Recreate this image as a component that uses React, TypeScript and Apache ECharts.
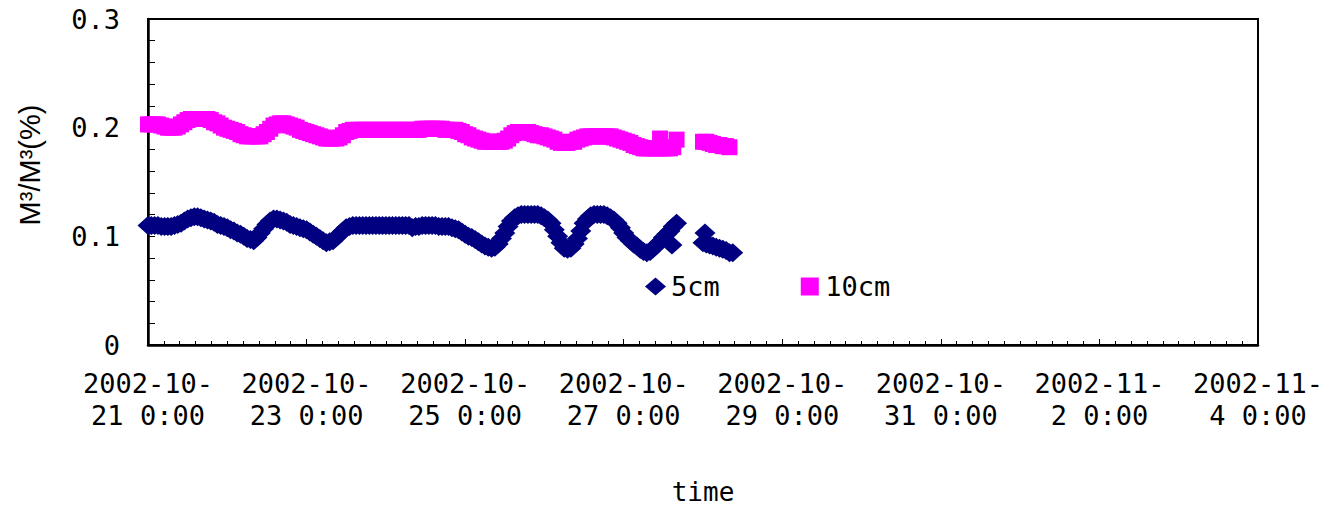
import React, { useEffect, useRef } from "react";
import * as echarts from "echarts";

// hourly readings from 2002-10-21 0:00 (null = no reading)
const STEP_HOURS = 1;
const values5cm: (number | null)[] = [
  0.110, 0.110, 0.110, 0.110, 0.109, 0.109, 0.109, 0.109, 0.110, 0.111,
  0.112, 0.114, 0.116, 0.117, 0.118, 0.118, 0.117, 0.116, 0.115, 0.114,
  0.113, 0.111, 0.110, 0.109, 0.108, 0.106, 0.105, 0.103, 0.102, 0.100,
  0.098, 0.097, 0.096, 0.099, 0.103, 0.107, 0.111, 0.114, 0.116, 0.116,
  0.115, 0.114, 0.113, 0.111, 0.110, 0.109, 0.108, 0.107, 0.106, 0.104,
  0.102, 0.100, 0.098, 0.096, 0.094, 0.095, 0.096, 0.099, 0.102, 0.105,
  0.108, 0.109, 0.110, 0.110, 0.110, 0.110, 0.110, 0.110, 0.110, 0.110,
  0.110, 0.110, 0.110, 0.110, 0.110, 0.110, 0.110, 0.110, 0.110, 0.110,
  0.108, 0.109, 0.109, 0.110, 0.110, 0.110, 0.110, 0.110, 0.109, 0.109,
  0.109, 0.109, 0.108, 0.107, 0.106, 0.104, 0.102, 0.100, 0.099, 0.097,
  0.095, 0.093, 0.091, 0.090, 0.089, 0.090, 0.093, 0.098, 0.103, 0.109,
  0.114, 0.117, 0.119, 0.120, 0.120, 0.120, 0.120, 0.120, 0.120, 0.119,
  0.117, 0.115, 0.112, 0.106, 0.100, 0.094, 0.089, 0.088, 0.089, 0.093,
  0.098, 0.105, 0.112, 0.116, 0.119, 0.120, 0.120, 0.120, 0.120, 0.119,
  0.117, 0.115, 0.112, 0.108, 0.103, 0.099, 0.096, 0.093, 0.091, 0.088,
  0.086, 0.085, 0.086, 0.089, 0.092, 0.095, 0.099, 0.102, 0.105, 0.109,
  0.112, null, null, null, null, null, null, null, 0.094, 0.093,
  0.092, 0.091, 0.090, 0.089, 0.088, 0.087, 0.085, 0.085, null, null,
];
const values10cm: (number | null)[] = [
  0.203, 0.203, 0.203, 0.203, 0.202, 0.201, 0.200, 0.200, 0.200, 0.201,
  0.203, 0.205, 0.207, 0.208, 0.208, 0.208, 0.208, 0.208, 0.208, 0.207,
  0.205, 0.204, 0.202, 0.200, 0.199, 0.198, 0.197, 0.196, 0.194, 0.193,
  0.192, 0.192, 0.192, 0.192, 0.192, 0.194, 0.196, 0.199, 0.202, 0.203,
  0.204, 0.204, 0.203, 0.202, 0.201, 0.200, 0.198, 0.197, 0.196, 0.195,
  0.194, 0.193, 0.192, 0.191, 0.190, 0.190, 0.190, 0.190, 0.191, 0.193,
  0.196, 0.197, 0.198, 0.198, 0.198, 0.198, 0.198, 0.198, 0.198, 0.198,
  0.198, 0.198, 0.198, 0.198, 0.198, 0.198, 0.198, 0.198, 0.198, 0.198,
  0.198, 0.198, 0.198, 0.199, 0.199, 0.199, 0.199, 0.199, 0.199, 0.199,
  0.198, 0.198, 0.198, 0.198, 0.197, 0.196, 0.194, 0.193, 0.191, 0.190,
  0.189, 0.188, 0.187, 0.187, 0.187, 0.187, 0.187, 0.187, 0.188, 0.190,
  0.193, 0.195, 0.196, 0.196, 0.196, 0.196, 0.195, 0.194, 0.193, 0.193,
  0.192, 0.191, 0.190, 0.189, 0.187, 0.186, 0.186, 0.186, 0.187, 0.187,
  0.189, 0.190, 0.191, 0.192, 0.192, 0.192, 0.192, 0.192, 0.192, 0.192,
  0.192, 0.191, 0.190, 0.189, 0.188, 0.187, 0.186, 0.184, 0.183, 0.182,
  0.181, 0.181, 0.181, 0.181, 0.181, 0.181, 0.181, 0.181, 0.181, 0.182,
  0.189, null, null, null, null, null, null, null, 0.187, 0.187,
  0.186, 0.185, 0.184, 0.184, 0.183, 0.183, 0.182, null, null, null,
];
// out-of-step readings: [hour, value]
const extra5cm: [number, number][] = [
  [158.6, 0.092],
  [168.6, 0.103],
];
const extra10cm: [number, number][] = [[155, 0.19]];

const xTickLabels = [
  "2002-10-\n21 0:00",
  "2002-10-\n23 0:00",
  "2002-10-\n25 0:00",
  "2002-10-\n27 0:00",
  "2002-10-\n29 0:00",
  "2002-10-\n31 0:00",
  "2002-11-\n2 0:00",
  "2002-11-\n4 0:00",
];

const FONT = "'DejaVu Sans Mono', monospace";

function toPairs(vals: (number | null)[], extra: [number, number][]) {
  const out: [number, number][] = [];
  vals.forEach((v, i) => {
    if (v !== null) out.push([i * STEP_HOURS, v]);
  });
  return out.concat(extra);
}

export default function App() {
  const ref = useRef<HTMLDivElement>(null);
  useEffect(() => {
    if (!ref.current) return;
    const chart = echarts.init(ref.current, null, { renderer: "svg" });
    chart.setOption({
      animation: false,
      backgroundColor: "#fff",
      grid: {
        left: 148,
        right: 75,
        top: 19,
        bottom: 162,
        outerBoundsMode: "none",
        containLabel: false,
        show: true,
        borderColor: "#000",
        borderWidth: 2,
        backgroundColor: "transparent",
      },
      legend: {
        left: 640,
        top: 268,
        itemWidth: 21,
        itemHeight: 18,
        itemGap: 81,
        symbolKeepAspect: true,
        textStyle: { fontFamily: FONT, fontSize: 27, color: "#000" },
        data: [
          { name: "5cm", icon: "diamond" },
          { name: "10cm", icon: "path://M0,0L1,0L1,1L0,1Z" },
        ],
      },
      xAxis: {
        type: "value",
        min: 0,
        max: 336,
        interval: 48,
        name: "time",
        nameLocation: "middle",
        nameGap: 134,
        nameTextStyle: { fontFamily: FONT, fontSize: 26, color: "#000" },
        axisLine: { lineStyle: { color: "#000", width: 2.5 } },
        axisTick: { inside: true, length: 6, lineStyle: { color: "#000" } },
        minorTick: { show: true, splitNumber: 10, length: 4, lineStyle: { color: "#000" } },
        splitLine: { show: false },
        axisLabel: {
          fontFamily: FONT,
          fontSize: 27,
          color: "#000",
          margin: 22,
          lineHeight: 32,
          formatter: (v: number) => xTickLabels[Math.round(v / 48)] ?? "",
        },
      },
      yAxis: {
        type: "value",
        min: 0,
        max: 0.3,
        interval: 0.1,
        axisLine: { show: true, lineStyle: { color: "#000", width: 2.5 } },
        axisTick: { show: true, inside: true, length: 7, lineStyle: { color: "#000" } },
        minorTick: { show: true, splitNumber: 5, length: 7, lineStyle: { color: "#000" } },
        splitLine: { show: false },
        axisLabel: {
          fontFamily: FONT,
          fontSize: 27,
          color: "#000",
          margin: 28,
          formatter: (v: number) => (v === 0 ? "0" : v.toFixed(1)),
        },
      },
      graphic: [
        {
          type: "text",
          x: 30,
          y: 165,
          rotation: Math.PI / 2,
          style: {
            text: "M³/M³(%)",
            fontFamily: "'Liberation Sans Narrow', 'Liberation Sans', sans-serif",
            fontSize: 29,
            fill: "#000",
            align: "center",
            verticalAlign: "middle",
          },
        },
      ],
      series: [
        {
          name: "5cm",
          type: "scatter",
          symbol: "diamond",
          symbolSize: [21, 19],
          itemStyle: { color: "#000080", opacity: 1 },
          data: toPairs(values5cm, extra5cm),
        },
        {
          name: "10cm",
          type: "scatter",
          symbol: "rect",
          symbolSize: 16,
          itemStyle: { color: "#FF00FF", opacity: 1 },
          data: toPairs(values10cm, extra10cm),
        },
      ],
    });
    return () => chart.dispose();
  }, []);
  return (
    <div
      ref={ref}
      style={{ position: "fixed", left: 0, top: 0, width: 1333, height: 507 }}
    />
  );
}
